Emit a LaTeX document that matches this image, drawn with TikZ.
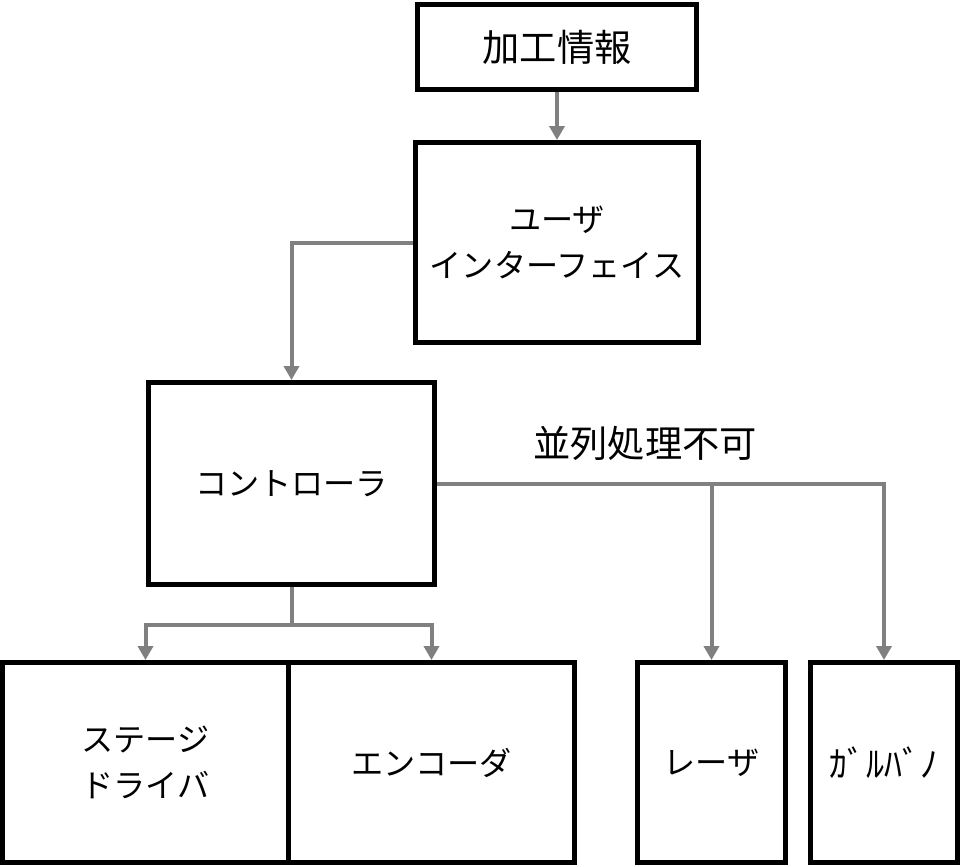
\documentclass[tikz,border=0pt]{standalone}
\usepackage{fontspec}
\setmainfont{Noto Sans CJK JP}
\usetikzlibrary{arrows.meta}
\definecolor{linegray}{RGB}{128,128,128}
\begin{document}
\begin{tikzpicture}[x=0.02cm, y=-0.02cm,
  box/.style={draw=black, line width=0.1cm, align=center, inner sep=0pt, font=\fontsize{18.3}{26.5}\selectfont},
  flow/.style={draw=linegray, line width=0.08cm, -{Triangle[width=0.3cm,length=0.28cm]}}]
\useasboundingbox (0,0) rectangle (962,866);
% boxes
\node[box, minimum width=5.58cm, minimum height=1.7cm, font=\fontsize{21.2}{26}\selectfont] (info) at (557,47) {加工情報};
\node[box, minimum width=5.68cm, minimum height=4cm] (ui) at (557,242.5) {ユーザ\\インターフェイス};
\node[box, minimum width=5.72cm, minimum height=4.04cm] (ctrl) at (291.5,483.5) {コントローラ};
\node[box, minimum width=5.72cm, minimum height=4cm] (stage) at (145.5,762.5) {ステージ\\ドライバ};
\node[box, minimum width=5.72cm, minimum height=4cm] (enc) at (431.5,762.5) {エンコーダ};
\node[box, minimum width=2.96cm, minimum height=4cm] (laser) at (711.5,762.5) {レーザ};
\node[box, minimum width=2.94cm, minimum height=4cm, font=\fontsize{20.5}{26}\selectfont] (galvo) at (884,762.5) {ｶﾞﾙﾊﾞﾉ};
\node[font=\fontsize{21.2}{26}\selectfont] (par) at (645,443) {並列処理不可};
% connectors
\draw[flow] (info) -- (ui);
\draw[flow] (ui.west) -| (ctrl.north);
\coordinate (split) at (laser.north |- ctrl.east);
\draw[flow] (ctrl.east) -| (galvo.north);
\draw[flow] (split) -- (laser.north);
\coordinate (fork) at (291.5,625);
\draw[draw=linegray, line width=0.08cm] (ctrl.south) -- (fork);
\draw[flow] (fork) -| (stage.north);
\draw[flow] (fork) -| (enc.north);
\end{tikzpicture}
\end{document}
